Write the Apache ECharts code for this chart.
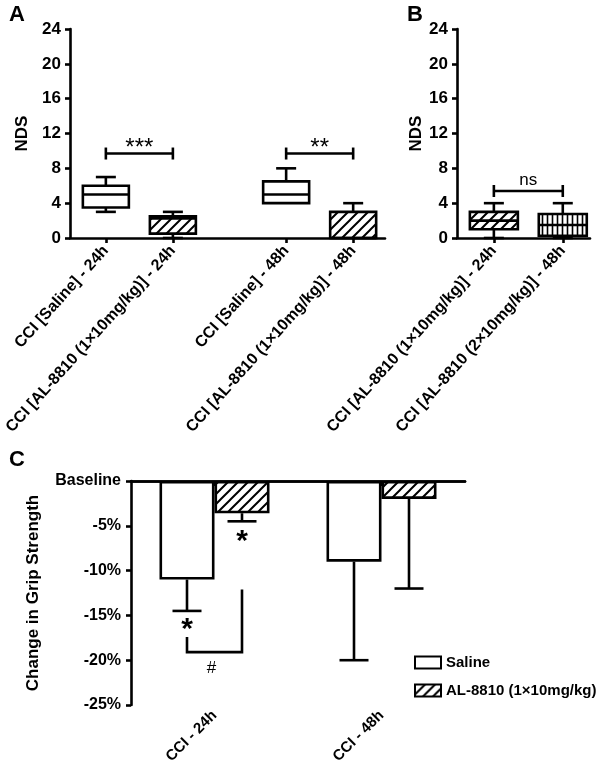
<!DOCTYPE html>
<html><head><meta charset="utf-8">
<script src="https://cdn.jsdelivr.net/npm/echarts@6/dist/echarts.min.js"></script>
<style>html,body{margin:0;padding:0;background:#fff}#c{width:600px;height:765px}</style>
</head><body><div id="c"></div>
<script>
// ---------- Panel A data ----------
const catsA = ['CCI [Saline] - 24h', 'CCI [AL-8810 (1×10mg/kg)] - 24h', 'CCI [Saline] - 48h', 'CCI [AL-8810 (1×10mg/kg)] - 48h'];
// [min, q1, median, q3, max]
const boxA = [
  [3, 3.5, 5, 6, 7],
  [0, 0.5, 2.25, 2.5, 3],
  [4, 4, 5, 6.5, 8],
  [0, 0, 0, 3, 4]
];
const patternA = ['none', 'hatch', 'none', 'hatch'];
const sigA = [[0, 1, '***'], [2, 3, '**']];
const sigLevelA = 9.7;
// ---------- Panel B data ----------
const catsB = ['CCI [AL-8810 (1×10mg/kg)] - 24h', 'CCI [AL-8810 (2×10mg/kg)] - 48h'];
const boxB = [
  [0, 1, 2, 3, 4],
  [0, 0.25, 1.5, 2.75, 4]
];
const patternB = ['hatch', 'vstripe'];
const sigB = [[0, 1, 'ns']];
const sigLevelB = 5.4;
const yTicksNDS = [0, 4, 8, 12, 16, 20, 24];
// ---------- Panel C data ----------
const catsC = ['CCI - 24h', 'CCI - 48h'];
const seriesNamesC = ['Saline', 'AL-8810 (1×10mg/kg)'];
const salineMean = [-11, -9];
const salineErrEnd = [-14.5, -20];
const alMean = [-3.6, -2];
const alErrEnd = [-4.5, -12];
const yTicksC = [-25, -20, -15, -10, -5, 0];
// annotations C: [category, side(-1 saline / +1 AL), value]
const starsC = [[0, -1, -15.8], [0, 1, -6.0]];
const hashC = { cat: 0, startLeft: -17.4, level: -19.1, endRight: -12.1, textAt: -20.9, text: '#' };

// ---------- layout helpers ----------
const FONT = 'Liberation Sans';
const slot = (i) => 1.07 + 2 * i + (i >= 2 ? 1.38 : 0);
const slotsA = catsA.map((_, i) => slot(i));
const slotsB = catsB.map((_, i) => slot(i));

function makeHatch(size, lw) {
  const c = document.createElement('canvas');
  c.width = size; c.height = size;
  const g = c.getContext('2d');
  g.fillStyle = '#fff'; g.fillRect(0, 0, size, size);
  g.strokeStyle = '#000'; g.lineWidth = lw;
  g.beginPath();
  g.moveTo(0, size); g.lineTo(size, 0);
  g.moveTo(-size, size); g.lineTo(size, -size);
  g.moveTo(0, 2 * size); g.lineTo(2 * size, 0);
  g.stroke();
  return c;
}
function makeVStripe(size, lw) {
  const c = document.createElement('canvas');
  c.width = size; c.height = size;
  const g = c.getContext('2d');
  g.fillStyle = '#fff'; g.fillRect(0, 0, size, size);
  g.fillStyle = '#000'; g.fillRect(size / 2 - lw / 2, 0, lw, size);
  return c;
}
const patterns = {
  none: '#fff',
  hatch: { image: makeHatch(10, 2), repeat: 'repeat' },
  vstripe: { image: makeVStripe(5, 1.6), repeat: 'repeat' }
};

const LW = 2.6;
function boxRender(boxW, pats) {
  return function (params, api) {
    const x = api.value(0);
    const mn = api.value(1), q1 = api.value(2), md = api.value(3), q3 = api.value(4), mx = api.value(5);
    const cx = api.coord([x, 0])[0];
    const y = (v) => api.coord([x, v])[1];
    const cap = 20;
    const st = { stroke: '#000', lineWidth: LW };
    const ch = [];
    if (mx > q3) {
      ch.push({ type: 'line', shape: { x1: cx, y1: y(mx), x2: cx, y2: y(q3) }, style: st });
      ch.push({ type: 'line', shape: { x1: cx - cap / 2, y1: y(mx), x2: cx + cap / 2, y2: y(mx) }, style: st });
    }
    if (mn < q1) {
      ch.push({ type: 'line', shape: { x1: cx, y1: y(q1), x2: cx, y2: y(mn) }, style: st });
      ch.push({ type: 'line', shape: { x1: cx - cap / 2, y1: y(mn), x2: cx + cap / 2, y2: y(mn) }, style: st });
    }
    ch.push({ type: 'rect', shape: { x: cx - boxW / 2, y: y(q3), width: boxW, height: y(q1) - y(q3) },
      style: { fill: patterns[pats[params.dataIndex]], stroke: '#000', lineWidth: LW } });
    ch.push({ type: 'line', shape: { x1: cx - boxW / 2, y1: y(md), x2: cx + boxW / 2, y2: y(md) }, style: st });
    return { type: 'group', children: ch };
  };
}
function sigRender(slots, level, labels) {
  return function (params, api) {
    const i0 = api.value(0), i1 = api.value(1);
    const x0 = api.coord([slots[i0], level])[0];
    const x1 = api.coord([slots[i1], level])[0];
    const yy = api.coord([slots[i0], level])[1];
    const st = { stroke: '#000', lineWidth: LW };
    const txt = labels[params.dataIndex];
    const star = /^\*+$/.test(txt);
    return { type: 'group', children: [
      { type: 'line', shape: { x1: x0, y1: yy, x2: x1, y2: yy }, style: st },
      { type: 'line', shape: { x1: x0, y1: yy - 6, x2: x0, y2: yy + 6 }, style: st },
      { type: 'line', shape: { x1: x1, y1: yy - 6, x2: x1, y2: yy + 6 }, style: st },
      { type: 'text', style: { text: txt, x: (x0 + x1) / 2, y: star ? yy - 5 : yy - 11,
        textAlign: 'center', textVerticalAlign: 'middle', font: (star ? '24px ' : '17px ') + FONT, fill: '#000' } }
    ] };
  };
}

const BAR_W = 55;
function errRender(params, api) {
  const cat = api.value(0), side = api.value(1), m = api.value(2), e = api.value(3);
  const cx = api.coord([cat, 0])[0] + side * BAR_W / 2;
  const y0 = api.coord([cat, m])[1], y1 = api.coord([cat, e])[1];
  const st = { stroke: '#000', lineWidth: LW };
  return { type: 'group', children: [
    { type: 'line', shape: { x1: cx, y1: y0, x2: cx, y2: y1 }, style: st },
    { type: 'line', shape: { x1: cx - 14.5, y1: y1, x2: cx + 14.5, y2: y1 }, style: st }
  ] };
}
function starRender(params, api) {
  const cat = api.value(0), side = api.value(1), v = api.value(2);
  const p = api.coord([cat, v]);
  return { type: 'text', style: { text: '*', x: p[0] + side * BAR_W / 2, y: p[1] + 7,
    textAlign: 'center', textVerticalAlign: 'middle', font: 'bold 30px ' + FONT, fill: '#000' } };
}
function hashRender(params, api) {
  const c = api.coord([hashC.cat, 0])[0];
  const xl = c - BAR_W / 2, xr = c + BAR_W / 2;
  const y = (v) => api.coord([hashC.cat, v])[1];
  return { type: 'group', children: [
    { type: 'polyline', shape: { points: [[xl, y(hashC.startLeft)], [xl, y(hashC.level)], [xr, y(hashC.level)], [xr, y(hashC.endRight)]] }, style: { stroke: '#000', lineWidth: LW, fill: null } },
    { type: 'text', style: { text: hashC.text, x: c - 3, y: y(hashC.textAt), textAlign: 'center', textVerticalAlign: 'middle', font: '17px ' + FONT, fill: '#000' } }
  ] };
}

const axisLineStyle = { show: true, lineStyle: { color: '#000', width: LW } };
const tickStyle = { show: true, length: 5, lineStyle: { color: '#000', width: LW } };
const nearest = (arr, v) => { let b = 0; arr.forEach((p, i) => { if (Math.abs(p - v) < Math.abs(arr[b] - v)) b = i; }); return b; };

const chart = echarts.init(document.getElementById('c'), null, { renderer: 'canvas' });
chart.setOption({
  animation: false,
  backgroundColor: '#fff',
  textStyle: { fontFamily: FONT },
  graphic: [
    { type: 'text', left: 9, top: 4, style: { text: 'A', font: 'bold 22px ' + FONT, fill: '#000' } },
    { type: 'text', left: 407, top: 4, style: { text: 'B', font: 'bold 22px ' + FONT, fill: '#000' } },
    { type: 'text', left: 9, top: 449, style: { text: 'C', font: 'bold 22px ' + FONT, fill: '#000' } }
  ],
  legend: {
    data: seriesNamesC, orient: 'vertical', left: 414, top: 655, padding: 0,
    itemWidth: 26, itemHeight: 12, itemGap: 13, icon: 'rect',
    textStyle: { fontSize: 15, fontWeight: 'bold', color: '#000', fontFamily: FONT },
    selectedMode: false
  },
  grid: [
    { left: 70, top: 29, width: 315, height: 209, outerBoundsMode: 'none', containLabel: false },
    { left: 457, top: 29, width: 133, height: 209, outerBoundsMode: 'none', containLabel: false },
    { left: 131, top: 481, width: 334, height: 224, outerBoundsMode: 'none', containLabel: false }
  ],
  xAxis: [
    { type: 'value', gridIndex: 0, min: 0, max: 9.4, splitLine: { show: false },
      axisLine: axisLineStyle, axisTick: Object.assign({ customValues: slotsA }, tickStyle),
      axisLabel: { customValues: slotsA, rotate: 48, margin: 10, fontSize: 16, fontWeight: 'bold', color: '#000',
        formatter: (v) => catsA[nearest(slotsA, v)] } },
    { type: 'value', gridIndex: 1, min: 0, max: 3.86, splitLine: { show: false },
      axisLine: axisLineStyle, axisTick: Object.assign({ customValues: slotsB }, tickStyle),
      axisLabel: { customValues: slotsB, rotate: 48, margin: 10, fontSize: 16, fontWeight: 'bold', color: '#000',
        formatter: (v) => catsB[nearest(slotsB, v)] } },
    { type: 'category', gridIndex: 2, data: catsC, position: 'bottom',
      axisLine: axisLineStyle, axisTick: Object.assign({ alignWithLabel: true }, tickStyle),
      axisLabel: { rotate: 45, margin: 8, fontSize: 15, fontWeight: 'bold', color: '#000' } },
    { type: 'category', gridIndex: 2, data: catsC, position: 'top',
      axisLine: axisLineStyle, axisTick: { show: false }, axisLabel: { show: false } }
  ],
  yAxis: [
    { type: 'value', gridIndex: 0, min: 0, max: 24, interval: 4, splitLine: { show: false },
      axisLine: axisLineStyle, axisTick: tickStyle,
      axisLabel: { margin: 9, fontSize: 17, fontWeight: 'bold', color: '#000' },
      name: 'NDS', nameLocation: 'middle', nameRotate: 90, nameGap: 32,
      nameTextStyle: { fontSize: 17, fontWeight: 'bold', color: '#000' } },
    { type: 'value', gridIndex: 1, min: 0, max: 24, interval: 4, splitLine: { show: false },
      axisLine: axisLineStyle, axisTick: tickStyle,
      axisLabel: { margin: 9, fontSize: 17, fontWeight: 'bold', color: '#000' },
      name: 'NDS', nameLocation: 'middle', nameRotate: 90, nameGap: 31,
      nameTextStyle: { fontSize: 17, fontWeight: 'bold', color: '#000' } },
    { type: 'value', gridIndex: 2, min: -25, max: 0, interval: 5, splitLine: { show: false },
      axisLine: axisLineStyle, axisTick: tickStyle,
      axisLabel: { margin: 10, fontSize: 16, fontWeight: 'bold', color: '#000',
        formatter: (v) => v === 0 ? 'Baseline' : v + '%' },
      name: 'Change in Grip Strength', nameLocation: 'middle', nameRotate: 90, nameGap: 89,
      nameTextStyle: { fontSize: 17, fontWeight: 'bold', color: '#000' } }
  ],
  series: [
    { type: 'custom', name: 'boxA', xAxisIndex: 0, yAxisIndex: 0, z: 5,
      renderItem: boxRender(46, patternA),
      data: boxA.map((b, i) => [slotsA[i]].concat(b)), encode: { x: 0, y: [1, 5] } },
    { type: 'custom', name: 'sigA', xAxisIndex: 0, yAxisIndex: 0, z: 5,
      renderItem: sigRender(slotsA, sigLevelA, sigA.map(s => s[2])),
      data: sigA.map(s => [s[0], s[1]]), encode: { x: -1, y: -1 } },
    { type: 'custom', name: 'boxB', xAxisIndex: 1, yAxisIndex: 1, z: 5,
      renderItem: boxRender(48, patternB),
      data: boxB.map((b, i) => [slotsB[i]].concat(b)), encode: { x: 0, y: [1, 5] } },
    { type: 'custom', name: 'sigB', xAxisIndex: 1, yAxisIndex: 1, z: 5,
      renderItem: sigRender(slotsB, sigLevelB, sigB.map(s => s[2])),
      data: sigB.map(s => [s[0], s[1]]), encode: { x: -1, y: -1 } },
    { type: 'bar', name: seriesNamesC[0], xAxisIndex: 2, yAxisIndex: 2, barWidth: BAR_W, barGap: '0%',
      itemStyle: { color: '#fff', borderColor: '#000', borderWidth: LW }, data: salineMean },
    { type: 'bar', name: seriesNamesC[1], xAxisIndex: 2, yAxisIndex: 2, barWidth: BAR_W, barGap: '0%',
      itemStyle: { color: patterns.hatch, borderColor: '#000', borderWidth: LW }, data: alMean },
    { type: 'custom', name: 'errC', xAxisIndex: 2, yAxisIndex: 2, z: 5, renderItem: errRender,
      data: salineMean.map((m, i) => [i, -1, m, salineErrEnd[i]]).concat(alMean.map((m, i) => [i, 1, m, alErrEnd[i]])),
      encode: { x: 0, y: [2, 3] } },
    { type: 'custom', name: 'starsC', xAxisIndex: 2, yAxisIndex: 2, z: 5, renderItem: starRender,
      data: starsC, encode: { x: 0, y: 2 } },
    { type: 'custom', name: 'hashC', xAxisIndex: 2, yAxisIndex: 2, z: 5, renderItem: hashRender,
      data: [[0]], encode: { x: -1, y: -1 } }
  ]
});
</script></body></html>
